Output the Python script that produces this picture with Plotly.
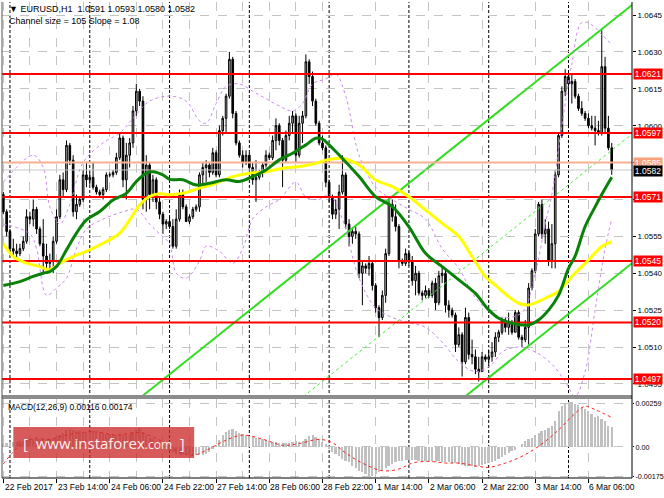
import plotly.graph_objects as go

# цены храним в пунктах от базы 1.0500 (1 пункт = 0.0001)
BASE = 1.05
PIP = 0.0001

# свечи EURUSD H1, с 22 Feb 22:00 по 6 Mar 13:00
OPEN_PIPS = [72, 65, 57, 50, 49, 48, 50, 53, 63, 62, 66, 58, 52, 47, 44, 45, 53, 63, 78, 74,
             92, 86, 65, 68, 70, 80, 78, 79, 75, 73, 72, 74, 80, 80, 81, 87, 95, 78, 88, 93,
             106, 114, 110, 70, 84, 72, 78, 69, 64, 60, 61, 59, 51, 62, 72, 67, 61, 63, 66, 67,
             80, 83, 84, 81, 89, 80, 98, 103, 112, 127, 105, 93, 88, 85, 88, 83, 78, 79, 81, 84,
             88, 87, 94, 100, 94, 86, 96, 101, 104, 88, 101, 104, 126, 120, 110, 101, 93, 91, 77, 71,
             64, 66, 73, 80, 60, 55, 57, 56, 40, 43, 42, 44, 35, 26, 22, 31, 48, 68, 63, 59,
             45, 44, 48, 45, 37, 40, 32, 31, 33, 31, 36, 28, 39, 40, 27, 25, 23, 11, 15, 4,
             22, 7, 6, 1, 0, 6, 5, 6, 8, 14, 16, 21, 18, 20, 16, 24, 14, 13, 18, 34,
             41, 56, 68, 56, 58, 45, 52, 80, 96, 114, 120, 117, 118, 112, 107, 105, 103, 100, 99, 98,
             97, 124, 99, 91]
HIGH_PIPS = [73, 66, 58, 54, 52, 52, 55, 66, 65, 70, 67, 59, 62, 52, 48, 55, 66, 80, 81, 94,
             93, 88, 72, 71, 82, 85, 81, 85, 76, 74, 75, 81, 81, 82, 89, 97, 96, 93, 95, 108,
             117, 115, 112, 88, 85, 80, 79, 71, 65, 62, 63, 62, 66, 74, 74, 68, 64, 67, 68, 81,
             85, 86, 85, 91, 90, 100, 104, 113, 130, 128, 106, 94, 90, 90, 89, 85, 86, 82, 85, 90,
             89, 96, 103, 101, 95, 98, 104, 106, 105, 104, 106, 129, 127, 122, 111, 102, 96, 92, 78, 72,
             70, 76, 88, 81, 62, 58, 59, 57, 45, 44, 47, 45, 36, 27, 33, 50, 71, 70, 68, 60,
             46, 50, 49, 47, 43, 41, 33, 35, 34, 37, 38, 41, 43, 42, 29, 26, 24, 18, 16, 26,
             24, 13, 9, 6, 8, 7, 9, 12, 16, 17, 22, 22, 24, 21, 25, 25, 15, 21, 36, 42,
             58, 69, 70, 62, 61, 60, 82, 97, 116, 123, 121, 121, 119, 113, 110, 106, 105, 104, 104, 102,
             139, 128, 104, 93]
LOW_PIPS = [64, 55, 48, 47, 46, 47, 49, 52, 60, 59, 56, 51, 40, 41, 41, 40, 52, 62, 71, 73,
            84, 63, 62, 67, 69, 75, 76, 74, 72, 71, 70, 73, 79, 79, 80, 86, 75, 70, 83, 91,
            104, 108, 66, 65, 66, 69, 66, 62, 56, 58, 58, 50, 50, 61, 66, 61, 60, 62, 65, 65,
            76, 77, 79, 80, 79, 79, 96, 97, 111, 103, 92, 87, 83, 84, 82, 76, 69, 78, 79, 83,
            86, 86, 90, 92, 75, 85, 94, 97, 85, 87, 93, 103, 117, 108, 100, 92, 90, 75, 69, 62,
            62, 58, 72, 58, 51, 52, 54, 38, 27, 40, 39, 33, 24, 14, 21, 28, 47, 61, 57, 42,
            43, 43, 43, 35, 31, 31, 29, 30, 30, 30, 25, 27, 36, 24, 22, 22, 8, 10, -2, 3,
            5, 3, -1, -4, 0, 4, 2, 4, 6, 12, 15, 16, 15, 15, 16, 13, 10, 12, 11, 33,
            40, 55, 54, 52, 43, 42, 42, 79, 95, 112, 99, 109, 111, 106, 104, 102, 99, 98, 92, 96,
            96, 97, 90, 80]
CLOSE_PIPS = [65, 57, 50, 49, 48, 50, 53, 63, 62, 66, 58, 52, 47, 44, 45, 53, 63, 78, 74, 92,
              86, 65, 68, 70, 80, 78, 79, 75, 73, 72, 74, 80, 80, 81, 87, 95, 78, 88, 93, 106,
              114, 110, 70, 84, 72, 78, 69, 64, 60, 61, 59, 51, 62, 72, 67, 61, 63, 66, 67, 80,
              83, 84, 81, 89, 80, 98, 103, 112, 127, 105, 93, 88, 85, 88, 83, 78, 79, 81, 84, 88,
              87, 94, 100, 94, 86, 96, 101, 104, 88, 101, 104, 126, 120, 110, 101, 93, 91, 77, 71, 64,
              66, 73, 80, 60, 55, 57, 56, 40, 43, 42, 44, 35, 26, 22, 31, 48, 68, 63, 59, 45,
              44, 48, 45, 37, 40, 32, 31, 33, 31, 36, 28, 39, 40, 27, 25, 23, 11, 15, 4, 22,
              7, 6, 1, 0, 6, 5, 6, 8, 14, 16, 21, 18, 20, 16, 24, 14, 13, 18, 34, 41,
              56, 68, 56, 58, 45, 52, 80, 96, 114, 120, 117, 118, 112, 107, 105, 103, 100, 99, 98, 97,
              124, 99, 91, 82]

# скользящие средние и полосы (точки: номер бара -> пункты)
MA_FAST_BARS = [0, 5, 9, 12, 14, 16, 19, 22, 25, 29, 33, 37, 40, 43, 45, 48, 50, 54, 58, 62,
                67, 71, 75, 79, 83, 87, 91, 94, 96, 98, 100, 107, 112, 117, 122, 127, 132, 137, 142, 146,
                149, 153, 158, 161, 164, 167, 170, 172, 175, 178, 180, 183]
MA_FAST_PIPS = [35, 36.6, 38.7, 40, 40.7, 42.7, 49.5, 56.3, 61.7, 65.1, 69.8, 72.5, 77.3, 80.7, 81.3, 80, 78.2, 78, 75.9, 76.6,
                78, 77.3, 79.3, 82, 86.1, 88.8, 92.2, 94.9, 94.5, 92.2, 89.5, 79.3, 71.1, 67.1, 58.9, 48.1, 42.7, 37.3, 31.8, 25.1,
                21.7, 19.7, 19, 21, 25, 31, 42, 47, 59, 67, 72, 79]
MA_SLOW_BARS = [0, 3, 7, 11, 14, 17, 21, 26, 31, 35, 38, 41, 44, 47, 50, 54, 59, 64, 69, 74,
                79, 84, 89, 94, 97, 102, 107, 112, 117, 122, 127, 132, 137, 141, 145, 148, 152, 155, 158, 164,
                167, 171, 176, 180, 183]
MA_SLOW_PIPS = [52, 46.8, 44.1, 42.7, 41.4, 44.1, 46.8, 49.5, 52.9, 56.3, 61.7, 67.8, 71.2, 72.3, 71.9, 72.5, 74.6, 76.6, 79.3, 80.7,
                81.3, 82.7, 83.4, 84.7, 86, 86.7, 84, 77.9, 75.2, 71.1, 65.7, 60.3, 54.9, 46.7, 38.6, 35.2, 30.5, 27.8, 27.1, 30.5,
                32.6, 38.7, 45.4, 50.9, 52.9]
BAND_UP_BARS = [0, 9, 12, 14, 17, 20, 24, 30, 35, 39, 44, 50, 55, 59, 61, 64, 67, 71, 75, 79,
                83, 87, 90, 93, 97, 100, 103, 107, 112, 117, 122, 127, 132, 137, 142, 147, 150, 156, 160, 163,
                165, 168, 171, 174, 177, 180, 183]
BAND_UP_PIPS = [77, 88, 83, 67, 60, 68, 85, 93, 97, 103, 110, 112, 110, 102, 101, 109, 116, 117, 114, 111,
                108, 106, 109, 117, 119, 121, 112, 88, 75, 70, 66, 62, 50, 42, 30, 24, 22, 24, 40, 60,
                72, 100, 125, 142, 141, 137, 133]
BAND_LOW_BARS = [0, 8, 10, 13, 16, 19, 22, 25, 30, 36, 40, 44, 47, 50, 52, 55, 59, 61, 65, 69,
                 72, 75, 79, 83, 88, 91, 95, 98, 102, 107, 112, 117, 122, 127, 132, 137, 142, 147, 150, 155,
                 160, 165, 169, 172, 175, 178, 181, 183]
BAND_LOW_PIPS = [60, 56, 50, 31, 34, 38, 50, 58, 62, 65, 66, 60, 56, 52, 40, 38, 45, 51, 49, 44,
                 50, 62, 67, 70, 77, 71, 70, 72, 62, 38, 26, 22, 20, 18, 12, 4, 0, 3, 8, 10,
                 8, 3, -4, -10, 0, 25, 50, 62]

# канал линейной регрессии
CHANNEL_SLOPE = 1.08      # пунктов на бар
CHANNEL_WIDTH = 105       # пунктов
CHANNEL_LOW_LAST = 37.5   # нижняя граница на последнем баре

# уровни
LEVELS = [1.0621, 1.0597, 1.0571, 1.0545, 1.0520, 1.0497]
ASK_LEVEL = 1.0585
BID_LEVEL = 1.0582

# MACD(12,26,9), в 1e-5
MACD_HIST = [20, 25, 28, 30, 32, 35, 38, 40, 42, 45, 45, 45, 45, 46, 48, 50, 55, 70, 85, 100,
             105, 100, 95, 92, 90, 88, 90, 92, 90, 88, 80, 78, 75, 72, 72, 75, 72, 70, 75, 88,
             105, 110, 90, 70, 55, 45, 35, 20, 10, 0, -15, -30, -40, -45, -45, -48, -50, -50, -50, -48,
             -45, -40, -30, -10, 10, 40, 70, 90, 100, 105, 95, 85, 75, 70, 65, 60, 55, 50, 45, 40,
             35, 30, 28, 25, 22, 22, 25, 30, 35, 30, 35, 50, 65, 70, 60, 45, 30, 15, -10, -30,
             -40, -55, -70, -80, -90, -110, -125, -140, -150, -160, -170, -172, -160, -150, -140, -125, -110, -100, -90, -85,
             -80, -78, -75, -75, -78, -80, -82, -84, -85, -85, -86, -85, -86, -88, -90, -92, -95, -100, -105, -110,
             -112, -115, -118, -115, -108, -100, -95, -88, -80, -70, -60, -45, -35, -25, -15, 0, 20, 35, 45, 55,
             70, 85, 94, 100, 110, 123, 153, 213, 243, 253, 263, 263, 253, 247, 237, 227, 213, 193, 179, 183,
             163, 153, 123, 116]
SIGNAL_BARS = [0, 5, 9, 14, 19, 27, 34, 41, 47, 53, 57, 61, 67, 72, 79, 84, 89, 95, 99, 103,
               108, 114, 119, 123, 128, 133, 137, 143, 146, 151, 156, 161, 167, 171, 175, 178, 183]
SIGNAL_VALS = [-100, 10, 50, 45, 70, 90, 70, 85, 40, -30, -50, -20, 40, 70, 40, 10, 20, 45, 25, -36,
               -95, -140, -130, -95, -85, -95, -95, -115, -120, -95, -55, 4, 100, 180, 240, 220, 174]

# подписи времени (каждые 16 баров) и разделители дней
TIME_LABELS = ["22 Feb 2017", "23 Feb 14:00", "24 Feb 06:00", "24 Feb 22:00", "27 Feb 14:00",
               "28 Feb 06:00", "28 Feb 22:00", "1 Mar 14:00", "2 Mar 06:00", "2 Mar 22:00",
               "3 Mar 14:00", "6 Mar 06:00"]
DAY_STARTS = [2, 26, 50, 74, 98, 122, 146, 170]
PRICE_TICKS = [1.0495, 1.0510, 1.0525, 1.0540, 1.0555, 1.0570, 1.0585, 1.0600, 1.0615, 1.0630, 1.0645]
MACD_TICKS = [-0.00175, 0.0, 0.00259]


def px(v):
    return round(BASE + v * PIP, 5)


bars = list(range(len(CLOSE_PIPS)))
last = len(bars) - 1
x_end = 189.1
label_bars = [16 * k for k in range(len(TIME_LABELS))]

FONT = "Liberation Sans"
MAIN_DOM = [0.1744, 1.0]
MACD_DOM = [0.0, 0.166]

fig = go.Figure()

# канал (сплошные границы и пунктирная середина)
ch_x = [0, x_end]
low_line = [px(CHANNEL_LOW_LAST + (b - last) * CHANNEL_SLOPE) for b in ch_x]
up_line = [px(CHANNEL_LOW_LAST + CHANNEL_WIDTH + (b - last) * CHANNEL_SLOPE) for b in ch_x]
mid_line = [px(CHANNEL_LOW_LAST + CHANNEL_WIDTH / 2 + (b - last) * CHANNEL_SLOPE) for b in ch_x]
fig.add_trace(go.Scatter(x=ch_x, y=up_line, mode="lines", line=dict(color="#33dd22", width=2)))
fig.add_trace(go.Scatter(x=ch_x, y=low_line, mode="lines", line=dict(color="#33dd22", width=2)))
fig.add_trace(go.Scatter(x=ch_x, y=mid_line, mode="lines",
                         line=dict(color="#44ee33", width=1, dash="3px,3px")))

# полосы
fig.add_trace(go.Scatter(x=BAND_UP_BARS, y=[px(v) for v in BAND_UP_PIPS], mode="lines",
                         line=dict(color="#cc88ee", width=1, dash="dot", shape="spline")))
fig.add_trace(go.Scatter(x=BAND_LOW_BARS, y=[px(v) for v in BAND_LOW_PIPS], mode="lines",
                         line=dict(color="#cc88ee", width=1, dash="dot", shape="spline")))

# горизонтальные уровни
for lv in LEVELS:
    fig.add_trace(go.Scatter(x=[-1, x_end + 1], y=[lv, lv], mode="lines",
                             line=dict(color="#ff0000", width=2)))
fig.add_trace(go.Scatter(x=[-1, x_end + 1], y=[ASK_LEVEL, ASK_LEVEL], mode="lines",
                         line=dict(color="#f8b090", width=2)))
fig.add_trace(go.Scatter(x=[-1, x_end + 1], y=[BID_LEVEL, BID_LEVEL], mode="lines",
                         line=dict(color="#c8c8c8", width=1)))

# средние
fig.add_trace(go.Scatter(x=MA_SLOW_BARS, y=[px(v) for v in MA_SLOW_PIPS], mode="lines",
                         line=dict(color="#ffff00", width=3, shape="spline")))
fig.add_trace(go.Scatter(x=MA_FAST_BARS, y=[px(v) for v in MA_FAST_PIPS], mode="lines",
                         line=dict(color="#0a820a", width=3, shape="spline")))

# свечи
fig.add_trace(go.Candlestick(
    x=bars,
    open=[px(v) for v in OPEN_PIPS],
    high=[px(v) for v in HIGH_PIPS],
    low=[px(v) for v in LOW_PIPS],
    close=[px(v) for v in CLOSE_PIPS],
    increasing=dict(line=dict(color="#000000", width=1), fillcolor="#b4b4b4"),
    decreasing=dict(line=dict(color="#000000", width=1), fillcolor="#000000"),
    whiskerwidth=0,
))

# MACD
fig.add_trace(go.Bar(x=bars, y=[v * 1e-5 for v in MACD_HIST], marker=dict(color="#c0c0c0", line_width=0),
                     width=0.6, xaxis="x", yaxis="y2"))
fig.add_trace(go.Scatter(x=SIGNAL_BARS, y=[v * 1e-5 for v in SIGNAL_VALS], mode="lines",
                         line=dict(color="#ff2020", width=1, dash="dot", shape="spline"),
                         xaxis="x", yaxis="y2"))

# разделители дней
for d in DAY_STARTS:
    fig.add_shape(type="line", xref="x", yref="paper", x0=d, x1=d, y0=0, y1=1,
                  line=dict(color="#000000", width=1, dash="3px,2px"), layer="below")

# рамки и разделитель панелей
fig.add_shape(type="rect", xref="paper", yref="paper", x0=0, x1=1, y0=MACD_DOM[1], y1=MAIN_DOM[0],
              fillcolor="#8c8c8c", line_width=0)
fig.add_shape(type="line", xref="paper", yref="paper", x0=0, x1=0, y0=0, y1=1,
              line=dict(color="#505050", width=1))
fig.add_shape(type="line", xref="paper", yref="paper", x0=1, x1=1, y0=0, y1=1,
              line=dict(color="#000000", width=1))
fig.add_shape(type="line", xref="paper", yref="paper", x0=0, x1=1, y0=0, y1=0,
              line=dict(color="#000000", width=1))

# водяной знак
fig.add_shape(type="rect", xref="paper", yref="paper", x0=0.018, x1=0.305, y0=0.042, y1=0.107,
              fillcolor="rgba(205,45,45,0.78)", line_width=0, layer="above")
fig.add_annotation(xref="paper", yref="paper", x=0.1615, y=0.0745, xanchor="center", yanchor="middle",
                   showarrow=False,
                   text="[ &nbsp;www.instaforex<span style='font-size:12px'>.com</span>&nbsp; ]",
                   font=dict(family="Open Sans", size=15, color="rgba(255,255,255,0.92)"))

# подписи
fig.add_annotation(xref="paper", yref="paper", x=0.008, y=1.0, xanchor="left", yanchor="top",
                   showarrow=False, align="left",
                   text="▼ EURUSD,H1  %.4f %.4f %.4f %.4f<br>Channel size = %d Slope = %.2f" % (
                       px(OPEN_PIPS[-1]), px(HIGH_PIPS[-1]), px(LOW_PIPS[-1]), px(CLOSE_PIPS[-1]),
                       CHANNEL_WIDTH, CHANNEL_SLOPE),
                   font=dict(family=FONT, size=9, color="#000000"))
fig.add_annotation(xref="paper", yref="paper", x=0.006, y=MACD_DOM[1], xanchor="left", yanchor="top",
                   showarrow=False, yshift=-1,
                   text="MACD(12,26,9) %.5f %.5f" % (MACD_HIST[-1] * 1e-5, SIGNAL_VALS[-1] * 1e-5),
                   font=dict(family=FONT, size=8.5, color="#000000"))

for b, t in zip(label_bars, TIME_LABELS):
    fig.add_annotation(x=b, xref="x", y=0, yref="paper", yanchor="top", xanchor="left",
                       showarrow=False, text=t, xshift=-1 if b else 0, yshift=-2,
                       font=dict(family=FONT, size=8.5, color="#000000"))

# ярлыки уровней на шкале
for lv in LEVELS:
    fig.add_annotation(xref="paper", x=1, yref="y", y=lv, xanchor="left", showarrow=False,
                       text="%.4f" % lv, bgcolor="#ff0000", width=28, height=10, xshift=1,
                       borderpad=0, font=dict(family=FONT, size=8.5, color="#ffffff"))
fig.add_annotation(xref="paper", x=1, yref="y", y=ASK_LEVEL, xanchor="left", showarrow=False,
                   text="%.4f" % ASK_LEVEL, bgcolor="#f7a07c", width=28, height=10, xshift=1,
                   borderpad=0, font=dict(family=FONT, size=8.5, color="#ffffff"))
fig.add_annotation(xref="paper", x=1, yref="y", y=BID_LEVEL, xanchor="left", showarrow=False,
                   text="%.4f" % BID_LEVEL, bgcolor="#000000", width=28, height=10, xshift=1, yshift=-1,
                   borderpad=0, font=dict(family=FONT, size=8.5, color="#ffffff"))

grid = "#c4c4c4"
fig.update_layout(
    width=664, height=498,
    margin=dict(l=2, r=32, t=2, b=20),
    paper_bgcolor="#ffffff", plot_bgcolor="#ffffff",
    showlegend=False,
    bargap=0,
    xaxis=dict(range=[-0.4, x_end], anchor="y2", rangeslider=dict(visible=False),
               tickmode="array", tickvals=label_bars, showticklabels=False,
               ticks="outside", ticklen=4, tickcolor="#000000",
               showgrid=True, gridcolor=grid, griddash="dash", gridwidth=1, zeroline=False,
               minor=dict(tickmode="array", tickvals=[8 * k + 8 for k in range(len(TIME_LABELS))],
                          showgrid=True, gridcolor=grid, griddash="dash", ticklen=0)),
    yaxis=dict(domain=MAIN_DOM, range=[1.04905, 1.06503], side="right", anchor="x",
               tickmode="array", tickvals=PRICE_TICKS, ticktext=["%.4f" % v for v in PRICE_TICKS],
               ticks="outside", ticklen=3, tickcolor="#000000", automargin=False,
               tickfont=dict(family=FONT, size=8, color="#000000"),
               showgrid=True, gridcolor=grid, griddash="dash", zeroline=False),
    yaxis2=dict(domain=MACD_DOM, range=[-0.00183, 0.00283], side="right", anchor="x",
                tickmode="array", tickvals=MACD_TICKS, ticktext=["-0.00175", "0.00", "0.00259"],
                ticks="outside", ticklen=1, ticklabelstandoff=0, tickcolor="#000000", automargin=False,
                tickfont=dict(family=FONT, size=7.2, color="#000000"),
                showgrid=True, gridcolor=grid, griddash="dash", zeroline=False),
)

# убираем отступ страницы и панель инструментов
fig.write_html("out.html", config={"displayModeBar": False},
               post_script="document.body.style.margin='0';")
